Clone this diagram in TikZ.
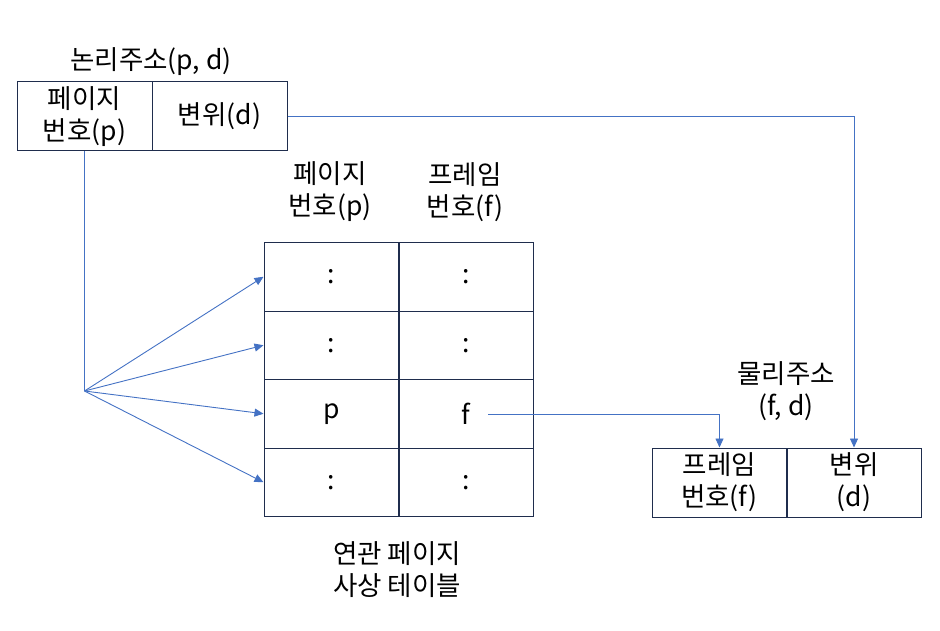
\documentclass[tikz,border=0pt]{standalone}
\usepackage{fontspec}
\setmainfont{Noto Sans CJK KR}
\usetikzlibrary{arrows.meta}
\definecolor{boxc}{HTML}{1F2D4D}
\definecolor{arr}{HTML}{4472C4}
\tikzset{
  txt/.style={font=\fontsize{26.5}{32}\selectfont, align=center, inner sep=0pt, text=black},
  cell/.style={txt, draw=boxc, line width=1pt, minimum width=135pt, minimum height=69pt},
  tcell/.style={cell, minimum height=68.5pt},
  conn/.style={draw=arr, line width=0.9pt},
  arrow/.style={conn, -{Triangle[length=9pt,width=8pt]}}
}
\begin{document}
\begin{tikzpicture}[x=1pt,y=-1pt]
\useasboundingbox (0,0) rectangle (940,631);
% logical address
\node[txt] (lt) at (151,62) {논리주소(p, d)};
\node[cell] (lp) at (84.5,116.5) {페이지\\번호(p)};
\node[cell] (ld) at (219.5,116.5) {변위(d)};
% table headers
\node[txt] (hp) at (330,192) {페이지\\번호(p)};
\node[txt] (hf) at (465,192) {프레임\\번호(f)};
% table
\node[tcell] (t1p) at (331.5,276.75) {:};
\node[tcell] (t1f) at (466,276.75) {:};
\node[tcell] (t2p) at (331.5,345.25) {:};
\node[tcell] (t2f) at (466,345.25) {:};
\node[tcell] (t3p) at (331.5,413.75) {p};
\node[tcell] (t3f) at (466,413.75) {f};
\node[tcell] (t4p) at (331.5,482.25) {:};
\node[tcell] (t4f) at (466,482.25) {:};
\node[txt] (tt) at (397,570) {연관 페이지\\사상 테이블};
% physical address
\node[txt] (pt) at (786,391) {물리주소\\(f, d)};
\node[cell] (rf) at (719.5,482.5) {프레임\\번호(f)};
\node[cell] (rd) at (854,482.5) {변위\\(d)};
% connectors
\coordinate (hub) at (84.5,391);
\draw[conn] (lp.south) -- (hub);
\draw[arrow] (hub) -- (t1p.west);
\draw[arrow] (hub) -- (t2p.west);
\draw[arrow] (hub) -- (t3p.west);
\draw[arrow] (hub) -- (t4p.west);
\draw[arrow] (ld.east) -| (rd.north);
\draw[arrow] ([xshift=22pt,yshift=-1pt]t3f.center) -| (rf.north);
\end{tikzpicture}
\end{document}
